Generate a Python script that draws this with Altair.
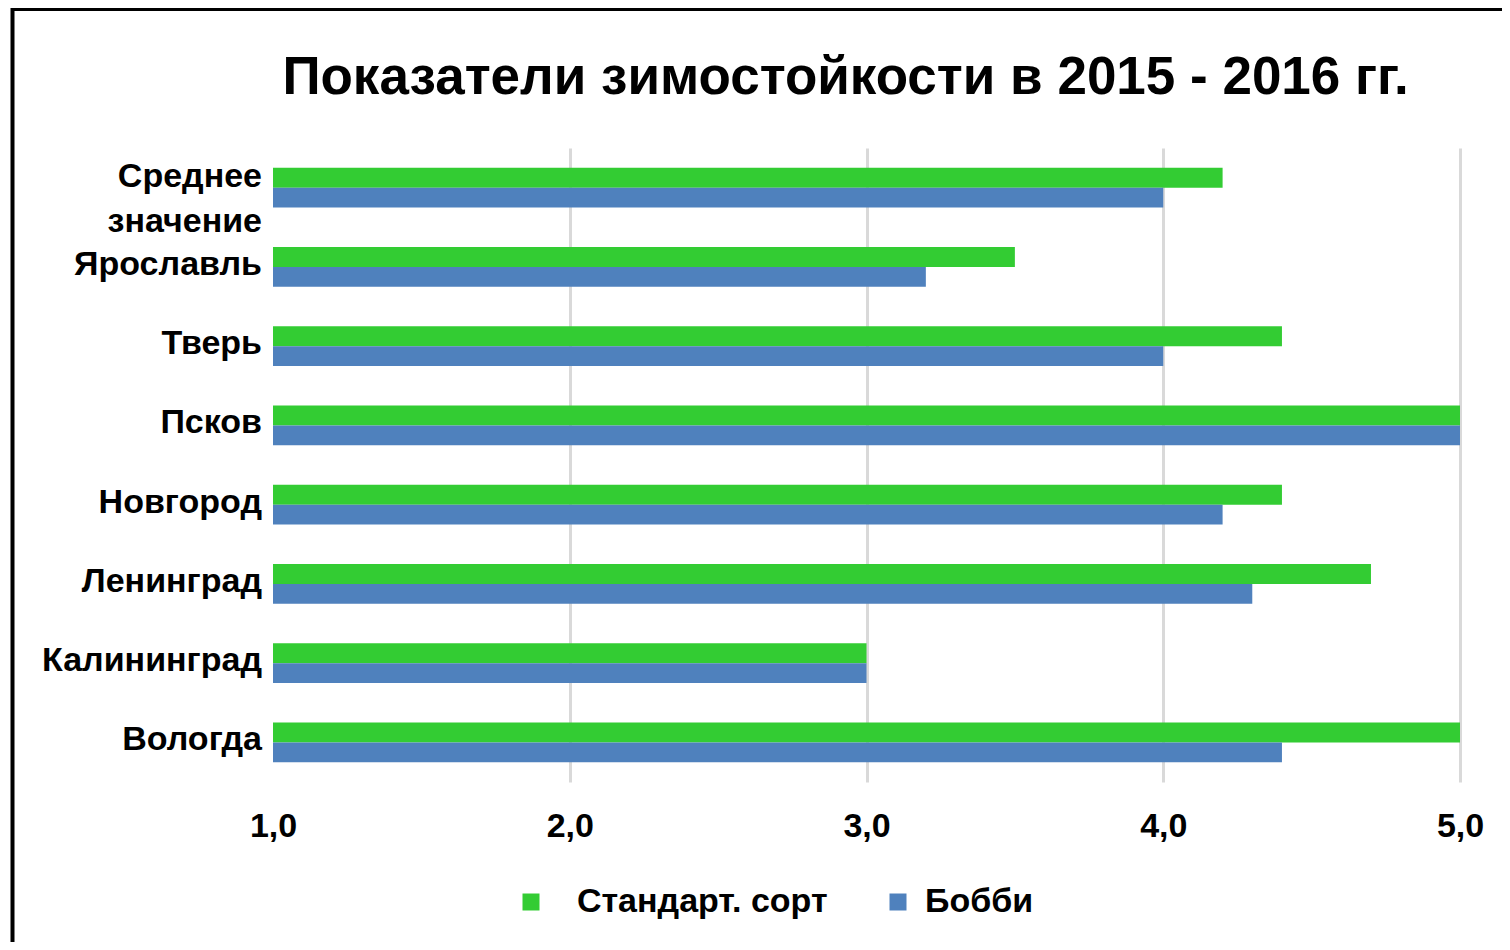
import altair as alt
import pandas as pd

title_text = "Показатели зимостойкости в 2015 - 2016 гг."
categories = ["Среднее значение", "Ярославль", "Тверь", "Псков", "Новгород",
              "Ленинград", "Калининград", "Вологда"]
series = ["Стандарт. сорт", "Бобби"]
standard = [4.2, 3.5, 4.4, 5.0, 4.4, 4.7, 3.0, 5.0]
bobbi = [4.0, 3.2, 4.0, 5.0, 4.2, 4.3, 3.0, 4.4]
colors = ["#33cc33", "#4f81bd"]
x_ticks = [1, 2, 3, 4, 5]

FONT = "Liberation Sans"

rows = []
for c, a, b in zip(categories, standard, bobbi):
    rows.append({"cat": c, "series": series[0], "value": a})
    rows.append({"cat": c, "series": series[1], "value": b})
df = pd.DataFrame(rows)

lab = pd.DataFrame({"cat": categories, "label": [c.replace(" ", "\n") for c in categories]})
lab_single = lab[~lab["label"].str.contains("\n")]
lab_multi = lab[lab["label"].str.contains("\n")]

y_enc = alt.Y("cat:N", sort=categories,
              scale=alt.Scale(paddingInner=0.496, paddingOuter=0.248),
              axis=None)

legend_expr = ("datum.value == '" + series[0] + "' ? '\u200b\u00a0\u00a0' + datum.label : datum.label")

bars = alt.Chart(df).mark_bar().encode(
    x=alt.X("value:Q",
            scale=alt.Scale(domain=[1, 5], clamp=True, nice=False, zero=False),
            axis=alt.Axis(values=x_ticks, title=None, domain=False, ticks=False,
                          labelExpr="replace(format(datum.value, '.1f'), '.', ',')",
                          labelFont=FONT, labelFontSize=34, labelFontWeight="bold",
                          labelColor="black", labelBaseline="middle", labelPadding=44,
                          labelFlush=False, labelOverlap=False,
                          gridColor="#d9d9d9", gridWidth=3,
                          gridOpacity={"condition": {"test": "datum.value == 1", "value": 0}, "value": 1})),
    y=y_enc,
    yOffset=alt.YOffset("series:N", sort=series,
                        scale=alt.Scale(paddingInner=0, paddingOuter=0)),
    color=alt.Color("series:N", sort=series,
                    scale=alt.Scale(domain=series, range=colors),
                    legend=alt.Legend(orient="none", legendX=241, legendY=737,
                                      direction="horizontal", title=None,
                                      symbolType="square", symbolSize=289,
                                      symbolStrokeWidth=0,
                                      labelFont=FONT, labelFontSize=34,
                                      labelFontWeight="bold", labelColor="black",
                                      labelLimit=500,
                                      labelExpr=legend_expr,
                                      labelOffset=10, columnPadding=53, padding=0)),
)

text_single = alt.Chart(lab_single).mark_text(
    align="right", baseline="middle", font=FONT, fontSize=34, fontWeight="bold",
    color="black", dy=-2
).encode(x=alt.value(-11), y=y_enc, text="label:N")

text_multi = alt.Chart(lab_multi).mark_text(
    align="right", baseline="middle", font=FONT, fontSize=34, fontWeight="bold",
    color="black", lineBreak="\n", lineHeight=45, dy=-11
).encode(x=alt.value(-11), y=y_enc, text="label:N")

frame_df = pd.DataFrame({"k": [0]})
frame_top = alt.Chart(frame_df).mark_rule(color="black", strokeWidth=4).encode(
    x=alt.value(-262), x2=alt.value(1300), y=alt.value(-139))
frame_left = alt.Chart(frame_df).mark_rule(color="black", strokeWidth=4).encode(
    x=alt.value(-260.5), y=alt.value(-141), y2=alt.value(900))

chart = alt.layer(bars, text_single, text_multi, frame_top, frame_left).properties(
    width=1187, height=634,
    title=alt.TitleParams(title_text, font=FONT, fontSize=53, fontWeight="bold",
                          color="black", anchor="middle", dx=-21, offset=-142,
                          baseline="alphabetic"),
    autosize=alt.AutoSizeParams(type="none"),
    padding={"left": 265, "top": 140, "right": 42, "bottom": 160},
    background="white",
).configure_view(stroke=None)

chart.save("out.html", embed_options={"renderer": "svg", "actions": False})
